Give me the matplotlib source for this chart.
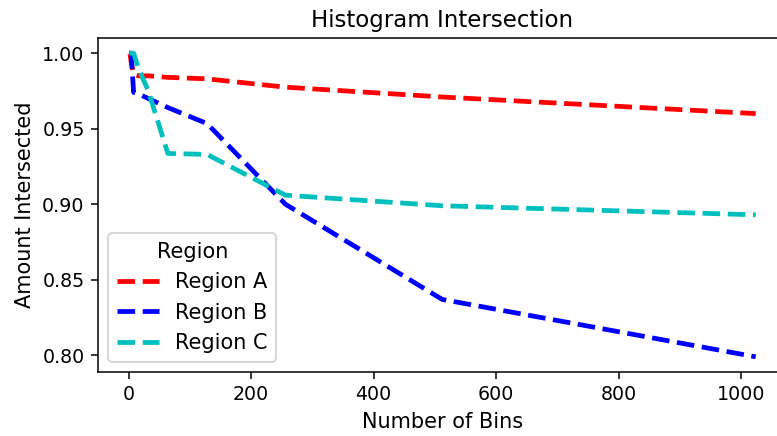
import numpy as np
import matplotlib
matplotlib.use("Agg")
import matplotlib.pyplot as plt

bins = [1, 2, 4, 8, 16, 32, 64, 128, 256, 512, 1024]
region_a = [1.0, 1.0, 0.994, 0.986, 0.985, 0.985, 0.984, 0.983, 0.9775, 0.971, 0.960]
region_b = [1.0, 1.0, 1.0, 0.974, 0.973, 0.970, 0.964, 0.9534, 0.900, 0.837, 0.799]
region_c = [1.0, 1.0, 1.0, 1.0, 0.990, 0.975, 0.9336, 0.933, 0.906, 0.899, 0.893]

dpi = 137
fig, ax = plt.subplots(figsize=(777 / dpi, 436 / dpi), dpi=dpi)
ax.plot(bins, region_a, 'r--', lw=2.5, label='Region A')
ax.plot(bins, region_b, 'b--', lw=2.5, label='Region B')
ax.plot(bins, region_c, 'c--', lw=2.5, label='Region C')

ax.set_title("Histogram Intersection", fontsize=12)
ax.set_xlabel("Number of Bins", fontsize=11)
ax.set_ylabel("Amount Intersected", fontsize=11)
ax.set_xticks([0, 200, 400, 600, 800, 1000])
ax.set_yticks([0.80, 0.85, 0.90, 0.95, 1.00])
ax.legend(title="Region", loc='lower left', fontsize=11, title_fontsize=11)
fig.subplots_adjust(left=98 / 777, right=787 / 777, top=1 - 38 / 436, bottom=1 - 372 / 436)
fig.savefig("out.png", dpi=dpi)
